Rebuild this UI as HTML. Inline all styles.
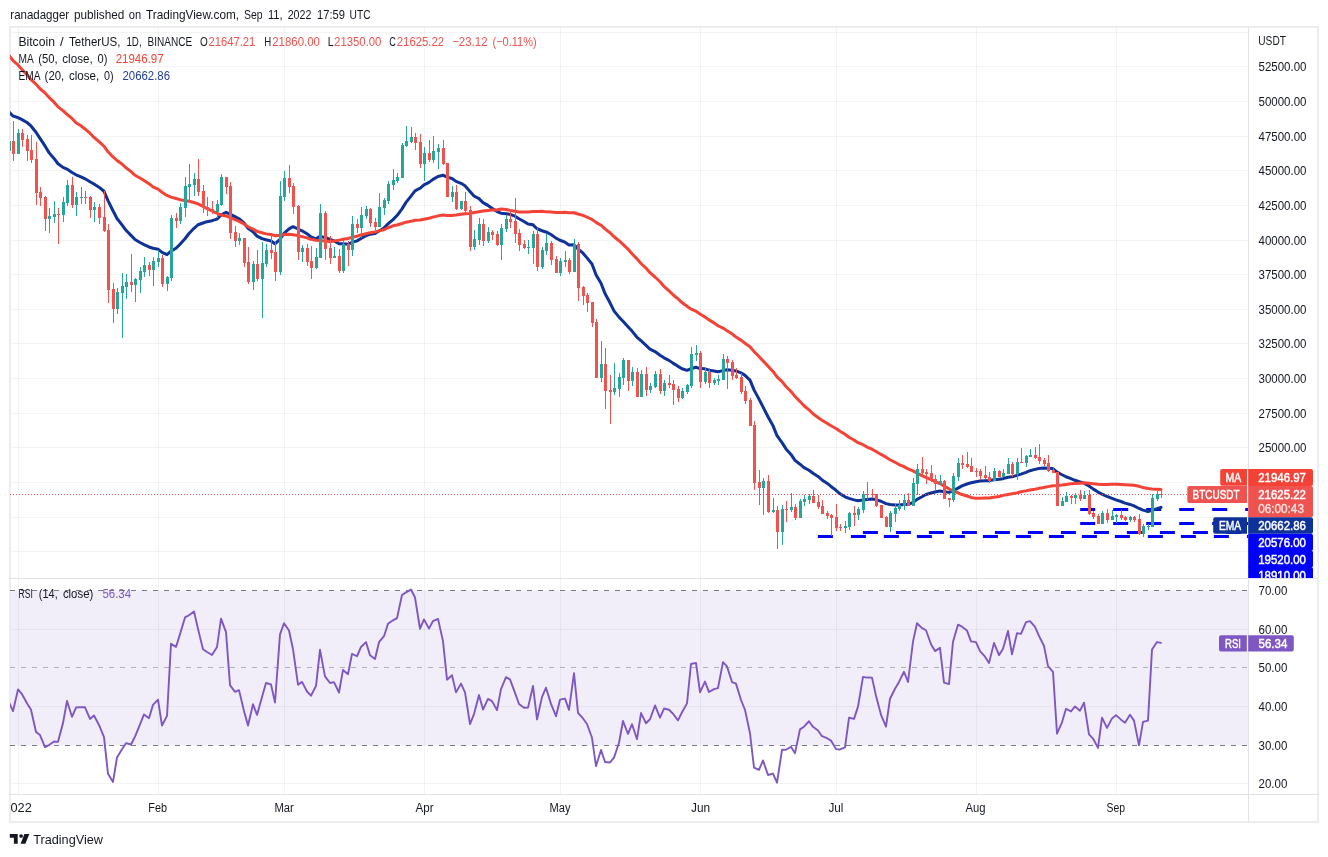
<!DOCTYPE html>
<html lang="en"><head><meta charset="utf-8"><title>BTCUSDT chart</title>
<style>html,body{margin:0;padding:0;background:#fff}svg{display:block}</style></head>
<body>
<svg width="1328" height="857" viewBox="0 0 1328 857" font-family="Liberation Sans, sans-serif" font-size="12.5">
<defs>
<clipPath id="cm"><rect x="10" y="27" width="1238" height="551"/></clipPath>
<clipPath id="cr"><rect x="10" y="579" width="1238" height="215"/></clipPath>
<clipPath id="ca"><rect x="1248" y="27" width="70" height="551"/></clipPath>
<clipPath id="ct"><rect x="10" y="795" width="1238" height="26"/></clipPath>
</defs>
<rect width="1328" height="857" fill="#fff"/>
<text y="18.7" fill="#131722" font-size="13" ><tspan x="10.30" textLength="58.81" lengthAdjust="spacingAndGlyphs">ranadagger</tspan> <tspan x="74.00" textLength="50.32" lengthAdjust="spacingAndGlyphs">published</tspan> <tspan x="128.80" textLength="12.33" lengthAdjust="spacingAndGlyphs">on</tspan> <tspan x="146.00" textLength="93.08" lengthAdjust="spacingAndGlyphs">TradingView.com,</tspan> <tspan x="244.10" textLength="18.59" lengthAdjust="spacingAndGlyphs">Sep</tspan> <tspan x="267.90" textLength="14.71" lengthAdjust="spacingAndGlyphs">11,</tspan> <tspan x="287.70" textLength="23.70" lengthAdjust="spacingAndGlyphs">2022</tspan> <tspan x="317.00" textLength="27.87" lengthAdjust="spacingAndGlyphs">17:59</tspan> <tspan x="349.60" textLength="21.00" lengthAdjust="spacingAndGlyphs">UTC</tspan></text>
<rect x="10" y="590.5" width="1238.5" height="155" fill="#7e57c2" fill-opacity="0.1"/>
<path d="M10 32.5H1248 M10 66.5H1248 M10 101.5H1248 M10 136.5H1248 M10 170.5H1248 M10 205.5H1248 M10 240.5H1248 M10 274.5H1248 M10 309.5H1248 M10 343.5H1248 M10 378.5H1248 M10 413.5H1248 M10 447.5H1248 M10 482.5H1248 M10 517.5H1248 M10 551.5H1248 M10 629.5H1248 M10 706.5H1248 M10 783.5H1248" stroke="#2a2e39" stroke-opacity="0.06" stroke-width="1" fill="none"/>
<path d="M18.5 27V794 M158.5 27V794 M284.5 27V794 M424.5 27V794 M560.5 27V794 M700.5 27V794 M836.5 27V794 M976.5 27V794 M1116.5 27V794" stroke="#2a2e39" stroke-opacity="0.06" stroke-width="1" fill="none"/>
<rect x="10" y="27" width="1308" height="795" fill="none" stroke="#ebedf3" stroke-width="2"/>
<path d="M1248.5 27V821 M10 794.5H1318 M10 578.5H1318" stroke="#e1e3e8" stroke-width="1" fill="none"/>
<g clip-path="url(#cm)">
<path d="M1080.2 509.5H1248" stroke="#0000ff" stroke-width="3" stroke-dasharray="15 18" fill="none"/>
<path d="M1080.2 523.5H1248" stroke="#0000ff" stroke-width="3" stroke-dasharray="15 18" fill="none"/>
<path d="M862.9 532.5H1248" stroke="#0000ff" stroke-width="3" stroke-dasharray="15 18" fill="none"/>
<path d="M817.9 536.5H1248" stroke="#0000ff" stroke-width="3" stroke-dasharray="15 18" fill="none"/>
<polyline points="9.00,112.05 13.00,115.99 18.00,117.57 22.00,119.58 27.00,122.50 31.00,125.95 36.00,132.21 40.00,138.37 45.00,145.94 49.00,152.64 54.00,158.45 58.00,163.77 63.00,167.38 67.00,169.11 72.00,172.44 76.00,174.79 81.00,176.89 85.00,178.80 90.00,181.68 94.00,184.09 99.00,187.18 104.00,191.27 108.00,200.55 113.00,210.77 117.00,218.46 122.00,224.87 126.00,230.28 131.00,235.37 135.00,239.51 140.00,242.53 144.00,244.66 149.00,246.96 153.00,248.28 158.00,249.17 162.00,252.34 167.00,254.67 171.00,251.15 176.00,248.22 180.00,244.25 185.00,238.74 189.00,233.48 194.00,228.29 198.00,224.75 203.00,223.03 207.00,221.68 212.00,220.67 217.00,219.12 221.00,215.07 226.00,212.29 230.00,214.20 235.00,216.65 239.00,218.72 244.00,222.83 248.00,228.37 253.00,231.77 257.00,236.13 262.00,238.66 266.00,239.78 271.00,240.92 275.00,243.82 280.00,239.24 284.00,233.44 289.00,228.88 293.00,226.66 298.00,229.01 302.00,230.81 307.00,233.72 311.00,236.93 316.00,238.85 320.00,236.35 325.00,237.42 330.00,239.30 334.00,240.89 339.00,243.69 343.00,243.73 348.00,244.28 352.00,242.36 357.00,240.88 361.00,238.43 366.00,235.63 370.00,234.34 375.00,233.51 379.00,230.97 384.00,227.98 388.00,223.81 393.00,219.62 397.00,215.57 402.00,208.84 406.00,202.37 411.00,196.10 415.00,190.92 420.00,188.28 424.00,184.87 429.00,182.41 433.00,179.40 438.00,176.45 443.00,175.20 447.00,177.15 452.00,178.55 456.00,181.38 461.00,183.29 465.00,185.80 470.00,191.54 474.00,196.01 479.00,198.64 483.00,202.61 488.00,205.40 492.00,208.15 497.00,211.56 501.00,213.17 506.00,213.71 510.00,214.38 515.00,216.14 519.00,218.75 524.00,221.47 528.00,223.91 533.00,224.84 537.00,228.73 542.00,230.76 546.00,231.94 551.00,234.51 556.00,238.12 560.00,240.27 565.00,242.15 569.00,244.89 574.00,244.79 578.00,248.84 583.00,253.21 587.00,257.88 592.00,263.99 596.00,274.75 601.00,283.25 605.00,293.46 610.00,302.79 614.00,310.90 619.00,317.18 623.00,321.22 628.00,326.80 632.00,331.09 637.00,337.26 641.00,340.72 646.00,345.32 650.00,349.17 655.00,351.53 660.00,355.23 664.00,357.86 669.00,360.38 673.00,363.12 678.00,366.35 682.00,368.74 687.00,370.32 691.00,368.77 696.00,367.27 700.00,368.56 705.00,368.86 709.00,370.13 714.00,371.06 718.00,371.83 723.00,370.61 727.00,369.83 732.00,370.34 736.00,370.93 741.00,372.81 745.00,375.38 750.00,380.15 754.00,389.86 759.00,399.11 763.00,406.88 768.00,416.79 773.00,425.68 777.00,435.69 782.00,442.63 786.00,448.91 791.00,454.40 795.00,460.33 800.00,464.22 804.00,467.57 809.00,470.26 813.00,473.30 818.00,476.44 822.00,479.89 827.00,483.21 831.00,486.46 836.00,490.28 840.00,493.76 845.00,496.83 849.00,498.40 854.00,499.89 858.00,500.73 863.00,500.10 867.00,499.56 872.00,499.07 876.00,499.60 881.00,501.26 886.00,503.60 890.00,504.52 895.00,504.89 899.00,504.90 904.00,504.43 908.00,504.53 913.00,502.47 917.00,499.33 922.00,496.71 926.00,494.44 931.00,493.01 935.00,492.01 940.00,490.94 944.00,491.65 949.00,492.37 953.00,490.77 958.00,488.16 962.00,485.88 967.00,484.00 971.00,482.75 976.00,481.66 980.00,481.04 985.00,480.70 989.00,480.65 994.00,479.70 999.00,479.31 1003.00,478.67 1008.00,477.25 1012.00,476.84 1017.00,475.40 1021.00,474.13 1026.00,472.36 1030.00,470.71 1035.00,469.39 1039.00,468.48 1044.00,467.97 1048.00,468.19 1053.00,468.58 1057.00,472.05 1062.00,474.78 1066.00,476.76 1071.00,478.70 1075.00,480.29 1080.00,481.93 1084.00,483.17 1089.00,486.03 1093.00,488.88 1098.00,492.10 1102.00,494.05 1107.00,496.44 1112.00,498.29 1116.00,499.85 1121.00,501.51 1125.00,503.16 1130.00,504.43 1134.00,505.85 1139.00,508.47 1143.00,510.17 1148.00,511.67 1152.00,510.34 1157.00,508.75 1161.00,507.35" fill="none" stroke="#0e3297" stroke-width="3.0" stroke-linejoin="round" stroke-linecap="round"/>
<polyline points="9.00,55.50 13.00,60.54 18.00,64.98 22.00,69.61 27.00,74.79 31.00,79.61 36.00,84.11 40.00,88.78 45.00,92.92 49.00,97.36 54.00,102.19 58.00,106.85 63.00,110.59 67.00,114.37 72.00,118.41 76.00,122.81 81.00,125.76 85.00,128.99 90.00,133.16 94.00,137.44 99.00,141.67 104.00,146.24 108.00,151.79 113.00,156.93 117.00,160.50 122.00,164.03 126.00,167.76 131.00,171.58 135.00,175.27 140.00,177.99 144.00,180.48 149.00,183.66 153.00,186.87 158.00,189.09 162.00,192.26 167.00,195.46 171.00,197.14 176.00,198.46 180.00,199.69 185.00,200.48 189.00,201.27 194.00,202.52 198.00,203.93 203.00,206.28 207.00,208.66 212.00,210.97 217.00,213.26 221.00,214.96 226.00,215.98 230.00,217.63 235.00,219.61 239.00,221.31 244.00,223.89 248.00,226.74 253.00,229.02 257.00,231.39 262.00,232.81 266.00,233.88 271.00,234.56 275.00,235.66 280.00,235.30 284.00,234.58 289.00,234.26 293.00,234.66 298.00,235.61 302.00,236.62 307.00,237.91 311.00,239.32 316.00,240.28 320.00,240.40 325.00,241.02 330.00,241.56 334.00,240.90 339.00,240.15 343.00,239.20 348.00,238.48 352.00,237.33 357.00,236.19 361.00,234.92 366.00,233.67 370.00,232.82 375.00,231.95 379.00,230.87 384.00,229.71 388.00,227.75 393.00,225.81 397.00,224.99 402.00,223.49 406.00,222.17 411.00,221.18 415.00,220.34 420.00,220.02 424.00,219.25 429.00,218.30 433.00,217.14 438.00,215.88 443.00,215.06 447.00,215.44 452.00,215.56 456.00,215.08 461.00,214.31 465.00,213.74 470.00,213.42 474.00,212.57 479.00,211.76 483.00,211.02 488.00,210.40 492.00,210.08 497.00,209.92 501.00,209.06 506.00,209.53 510.00,210.37 515.00,211.32 519.00,212.08 524.00,212.00 528.00,211.98 533.00,211.43 537.00,211.39 542.00,211.25 546.00,211.86 551.00,212.09 556.00,212.40 560.00,212.49 565.00,212.28 569.00,212.82 574.00,212.71 578.00,213.97 583.00,215.33 587.00,217.07 592.00,219.33 596.00,222.43 601.00,225.20 605.00,228.87 610.00,232.71 614.00,236.78 619.00,240.72 623.00,244.37 628.00,249.07 632.00,253.69 637.00,258.87 641.00,263.51 646.00,268.03 650.00,272.69 655.00,276.99 660.00,281.78 664.00,286.47 669.00,290.89 673.00,294.76 678.00,298.87 682.00,302.53 687.00,306.21 691.00,309.10 696.00,311.24 700.00,314.08 705.00,317.04 709.00,319.88 714.00,322.84 718.00,325.74 723.00,328.04 727.00,330.72 732.00,333.85 736.00,336.96 741.00,340.12 745.00,343.24 750.00,346.81 754.00,351.51 759.00,356.57 763.00,360.87 768.00,366.09 773.00,371.43 777.00,376.87 782.00,381.59 786.00,386.55 791.00,391.48 795.00,396.39 800.00,401.54 804.00,405.78 809.00,409.80 813.00,413.80 818.00,417.48 822.00,420.20 827.00,423.22 831.00,425.75 836.00,428.45 840.00,431.23 845.00,434.22 849.00,437.29 854.00,439.98 858.00,442.71 863.00,444.68 867.00,447.09 872.00,449.20 876.00,451.58 881.00,454.44 886.00,457.15 890.00,459.76 895.00,462.24 899.00,464.56 904.00,466.62 908.00,468.90 913.00,470.85 917.00,473.16 922.00,475.53 926.00,477.38 931.00,479.53 935.00,481.54 940.00,483.55 944.00,485.94 949.00,488.74 953.00,491.01 958.00,492.77 962.00,494.52 967.00,496.03 971.00,497.45 976.00,498.37 980.00,498.23 985.00,498.04 989.00,498.03 994.00,497.22 999.00,496.54 1003.00,495.37 1008.00,494.47 1012.00,493.76 1017.00,492.87 1021.00,491.77 1026.00,490.86 1030.00,489.97 1035.00,489.19 1039.00,488.35 1044.00,487.49 1048.00,486.64 1053.00,485.79 1057.00,485.54 1062.00,485.02 1066.00,484.40 1071.00,483.82 1075.00,483.46 1080.00,483.13 1084.00,482.86 1089.00,483.24 1093.00,483.67 1098.00,484.23 1102.00,484.39 1107.00,484.44 1112.00,484.24 1116.00,484.27 1121.00,484.44 1125.00,484.72 1130.00,485.05 1134.00,485.33 1139.00,486.34 1143.00,487.47 1148.00,488.55 1152.00,489.05 1157.00,489.34 1161.00,489.57" fill="none" stroke="#f44336" stroke-width="3.0" stroke-linejoin="round" stroke-linecap="round"/>
<path d="M10 494.5H1248" stroke="#ef5350" stroke-width="1" stroke-dasharray="1 2" fill="none"/>
<path d="M9 130h1V141h1V151h-1V158h-1V151h-1V141h1Z M18 129h1V133h1V154h-1V154h-1V154h-1V133h1Z M49 208h1V216h1V219h-1V233h-1V219h-1V216h1Z M54 201h1V214h1V217h-1V223h-1V217h-1V214h1Z M63 197h1V202h1V215h-1V222h-1V215h-1V202h1Z M67 180h1V185h1V203h-1V206h-1V203h-1V185h1Z M76 192h1V197h1V205h-1V216h-1V205h-1V197h1Z M81 187h1V197h1V198h-1V204h-1V198h-1V197h1Z M94 202h1V207h1V210h-1V222h-1V210h-1V207h1Z M117 288h1V292h1V309h-1V314h-1V309h-1V292h1Z M122 273h1V286h1V293h-1V338h-1V293h-1V286h1Z M126 274h1V282h1V287h-1V299h-1V287h-1V282h1Z M135 278h1V279h1V285h-1V302h-1V285h-1V279h1Z M140 267h1V271h1V280h-1V293h-1V280h-1V271h1Z M144 257h1V265h1V272h-1V277h-1V272h-1V265h1Z M153 257h1V261h1V270h-1V286h-1V270h-1V261h1Z M158 250h1V258h1V262h-1V267h-1V262h-1V258h1Z M167 276h1V277h1V284h-1V291h-1V284h-1V277h1Z M171 215h1V218h1V278h-1V281h-1V278h-1V218h1Z M180 203h1V207h1V221h-1V224h-1V221h-1V207h1Z M185 177h1V186h1V208h-1V217h-1V208h-1V186h1Z M189 164h1V184h1V187h-1V203h-1V187h-1V184h1Z M194 173h1V179h1V185h-1V196h-1V185h-1V179h1Z M217 200h1V204h1V212h-1V218h-1V212h-1V204h1Z M221 174h1V177h1V205h-1V206h-1V205h-1V177h1Z M239 233h1V238h1V241h-1V245h-1V241h-1V238h1Z M253 261h1V264h1V282h-1V290h-1V282h-1V264h1Z M262 242h1V263h1V279h-1V318h-1V279h-1V263h1Z M266 244h1V250h1V264h-1V267h-1V264h-1V250h1Z M280 181h1V196h1V272h-1V275h-1V272h-1V196h1Z M284 171h1V178h1V197h-1V201h-1V197h-1V178h1Z M302 245h1V248h1V252h-1V262h-1V252h-1V248h1Z M316 248h1V257h1V268h-1V269h-1V268h-1V257h1Z M320 204h1V213h1V258h-1V258h-1V258h-1V213h1Z M334 247h1V256h1V258h-1V258h-1V258h-1V256h1Z M343 240h1V244h1V271h-1V273h-1V271h-1V244h1Z M352 216h1V224h1V250h-1V256h-1V250h-1V224h1Z M361 207h1V215h1V228h-1V238h-1V228h-1V215h1Z M366 206h1V209h1V216h-1V219h-1V216h-1V209h1Z M379 193h1V207h1V227h-1V227h-1V227h-1V207h1Z M384 198h1V200h1V208h-1V215h-1V208h-1V200h1Z M388 181h1V184h1V201h-1V204h-1V201h-1V184h1Z M393 169h1V180h1V185h-1V190h-1V185h-1V180h1Z M397 173h1V177h1V181h-1V183h-1V181h-1V177h1Z M402 143h1V145h1V178h-1V178h-1V178h-1V145h1Z M406 126h1V141h1V146h-1V147h-1V146h-1V141h1Z M411 127h1V137h1V142h-1V143h-1V142h-1V137h1Z M424 147h1V153h1V164h-1V181h-1V164h-1V153h1Z M433 136h1V151h1V160h-1V163h-1V160h-1V151h1Z M438 144h1V148h1V152h-1V169h-1V152h-1V148h1Z M452 186h1V192h1V197h-1V202h-1V197h-1V192h1Z M461 201h1V201h1V209h-1V210h-1V209h-1V201h1Z M474 230h1V239h1V247h-1V250h-1V247h-1V239h1Z M479 218h1V224h1V240h-1V245h-1V240h-1V224h1Z M488 227h1V232h1V241h-1V243h-1V241h-1V232h1Z M501 224h1V228h1V245h-1V260h-1V245h-1V228h1Z M506 215h1V219h1V229h-1V232h-1V229h-1V219h1Z M528 240h1V247h1V248h-1V254h-1V248h-1V247h1Z M533 231h1V234h1V248h-1V264h-1V248h-1V234h1Z M542 247h1V250h1V267h-1V269h-1V267h-1V250h1Z M546 234h1V243h1V251h-1V255h-1V251h-1V243h1Z M560 258h1V261h1V273h-1V276h-1V273h-1V261h1Z M565 251h1V260h1V262h-1V267h-1V262h-1V260h1Z M574 239h1V244h1V272h-1V272h-1V272h-1V244h1Z M601 341h1V364h1V378h-1V382h-1V378h-1V364h1Z M614 363h1V388h1V392h-1V395h-1V392h-1V388h1Z M619 373h1V377h1V389h-1V397h-1V389h-1V377h1Z M623 358h1V360h1V378h-1V385h-1V378h-1V360h1Z M632 367h1V372h1V381h-1V386h-1V381h-1V372h1Z M641 370h1V374h1V397h-1V397h-1V397h-1V374h1Z M650 383h1V386h1V390h-1V393h-1V390h-1V386h1Z M655 371h1V374h1V387h-1V388h-1V387h-1V374h1Z M664 380h1V383h1V391h-1V396h-1V391h-1V383h1Z M682 388h1V391h1V398h-1V399h-1V398h-1V391h1Z M687 384h1V385h1V392h-1V394h-1V392h-1V385h1Z M691 347h1V354h1V386h-1V388h-1V386h-1V354h1Z M696 345h1V353h1V355h-1V361h-1V355h-1V353h1Z M705 368h1V372h1V382h-1V384h-1V382h-1V372h1Z M714 378h1V380h1V383h-1V385h-1V383h-1V380h1Z M718 375h1V379h1V381h-1V385h-1V381h-1V379h1Z M723 354h1V359h1V380h-1V380h-1V380h-1V359h1Z M763 478h1V481h1V488h-1V515h-1V488h-1V481h1Z M773 498h1V510h1V512h-1V513h-1V512h-1V510h1Z M782 505h1V509h1V532h-1V545h-1V532h-1V509h1Z M791 493h1V507h1V510h-1V512h-1V510h-1V507h1Z M800 499h1V501h1V518h-1V518h-1V518h-1V501h1Z M804 495h1V499h1V502h-1V506h-1V502h-1V499h1Z M809 494h1V496h1V500h-1V504h-1V500h-1V496h1Z M845 521h1V526h1V528h-1V533h-1V528h-1V526h1Z M849 512h1V513h1V527h-1V530h-1V527h-1V513h1Z M858 507h1V509h1V515h-1V520h-1V515h-1V509h1Z M863 491h1V494h1V510h-1V513h-1V510h-1V494h1Z M890 511h1V513h1V527h-1V532h-1V527h-1V513h1Z M895 504h1V508h1V514h-1V522h-1V514h-1V508h1Z M899 500h1V505h1V509h-1V511h-1V509h-1V505h1Z M904 495h1V500h1V506h-1V510h-1V506h-1V500h1Z M913 478h1V483h1V506h-1V506h-1V506h-1V483h1Z M917 464h1V469h1V484h-1V495h-1V484h-1V469h1Z M940 475h1V481h1V484h-1V485h-1V484h-1V481h1Z M953 473h1V476h1V500h-1V502h-1V500h-1V476h1Z M958 458h1V463h1V477h-1V481h-1V477h-1V463h1Z M994 468h1V471h1V481h-1V481h-1V481h-1V471h1Z M1003 469h1V473h1V477h-1V477h-1V477h-1V473h1Z M1008 458h1V464h1V474h-1V474h-1V474h-1V464h1Z M1017 458h1V462h1V474h-1V480h-1V474h-1V462h1Z M1026 455h1V456h1V463h-1V467h-1V463h-1V456h1Z M1030 449h1V455h1V457h-1V457h-1V457h-1V455h1Z M1062 497h1V501h1V506h-1V506h-1V506h-1V501h1Z M1066 492h1V496h1V502h-1V502h-1V502h-1V496h1Z M1075 493h1V495h1V498h-1V504h-1V498h-1V495h1Z M1084 491h1V495h1V499h-1V499h-1V499h-1V495h1Z M1102 511h1V513h1V524h-1V524h-1V524h-1V513h1Z M1112 510h1V516h1V520h-1V520h-1V520h-1V516h1Z M1116 514h1V515h1V517h-1V523h-1V517h-1V515h1Z M1130 516h1V517h1V520h-1V522h-1V520h-1V517h1Z M1143 524h1V526h1V534h-1V537h-1V534h-1V526h1Z M1148 524h1V526h1V527h-1V530h-1V527h-1V526h1Z M1152 494h1V498h1V527h-1V527h-1V527h-1V498h1Z M1157 491h1V494h1V499h-1V501h-1V499h-1V494h1Z" fill="#26a69a"/>
<path d="M13 121h1V141h1V154h-1V161h-1V154h-1V141h1Z M22 129h1V133h1V140h-1V147h-1V140h-1V133h1Z M27 135h1V139h1V151h-1V161h-1V151h-1V139h1Z M31 135h1V150h1V160h-1V163h-1V160h-1V150h1Z M36 142h1V159h1V193h-1V205h-1V193h-1V159h1Z M40 187h1V192h1V198h-1V206h-1V198h-1V192h1Z M45 196h1V197h1V219h-1V231h-1V219h-1V197h1Z M58 208h1V214h1V215h-1V244h-1V215h-1V214h1Z M72 177h1V185h1V205h-1V208h-1V205h-1V185h1Z M85 191h1V197h1V198h-1V204h-1V198h-1V197h1Z M90 196h1V197h1V210h-1V218h-1V210h-1V197h1Z M99 204h1V207h1V218h-1V224h-1V218h-1V207h1Z M104 191h1V217h1V231h-1V232h-1V231h-1V217h1Z M108 224h1V230h1V290h-1V303h-1V290h-1V230h1Z M113 283h1V289h1V309h-1V323h-1V309h-1V289h1Z M131 254h1V282h1V285h-1V292h-1V285h-1V282h1Z M149 262h1V265h1V270h-1V276h-1V270h-1V265h1Z M162 255h1V258h1V284h-1V287h-1V284h-1V258h1Z M176 213h1V218h1V221h-1V228h-1V221h-1V218h1Z M198 159h1V179h1V192h-1V196h-1V192h-1V179h1Z M203 185h1V191h1V208h-1V213h-1V208h-1V191h1Z M207 197h1V207h1V210h-1V216h-1V210h-1V207h1Z M212 201h1V209h1V212h-1V214h-1V212h-1V209h1Z M226 177h1V177h1V187h-1V194h-1V187h-1V177h1Z M230 182h1V186h1V233h-1V239h-1V233h-1V186h1Z M235 226h1V232h1V241h-1V247h-1V241h-1V232h1Z M244 238h1V238h1V263h-1V267h-1V263h-1V238h1Z M248 247h1V262h1V282h-1V284h-1V282h-1V262h1Z M257 250h1V264h1V279h-1V281h-1V279h-1V264h1Z M271 235h1V250h1V253h-1V259h-1V253h-1V250h1Z M275 242h1V252h1V272h-1V281h-1V272h-1V252h1Z M289 165h1V178h1V187h-1V193h-1V187h-1V178h1Z M293 183h1V186h1V207h-1V214h-1V207h-1V186h1Z M298 205h1V206h1V252h-1V260h-1V252h-1V206h1Z M307 244h1V248h1V262h-1V266h-1V262h-1V248h1Z M311 246h1V261h1V268h-1V279h-1V268h-1V261h1Z M325 211h1V213h1V249h-1V260h-1V249h-1V213h1Z M330 236h1V248h1V258h-1V264h-1V258h-1V248h1Z M339 249h1V256h1V271h-1V273h-1V271h-1V256h1Z M348 241h1V244h1V250h-1V266h-1V250h-1V244h1Z M357 219h1V224h1V228h-1V233h-1V228h-1V224h1Z M370 208h1V209h1V223h-1V227h-1V223h-1V209h1Z M375 218h1V222h1V227h-1V233h-1V227h-1V222h1Z M415 133h1V137h1V143h-1V150h-1V143h-1V137h1Z M420 134h1V142h1V164h-1V168h-1V164h-1V142h1Z M429 140h1V153h1V160h-1V162h-1V160h-1V153h1Z M443 140h1V148h1V164h-1V165h-1V164h-1V148h1Z M447 163h1V163h1V197h-1V197h-1V197h-1V163h1Z M456 185h1V192h1V209h-1V210h-1V209h-1V192h1Z M465 192h1V201h1V211h-1V214h-1V211h-1V201h1Z M470 206h1V210h1V247h-1V251h-1V247h-1V210h1Z M483 219h1V224h1V241h-1V246h-1V241h-1V224h1Z M492 230h1V232h1V235h-1V240h-1V235h-1V232h1Z M497 231h1V234h1V245h-1V246h-1V245h-1V234h1Z M510 209h1V219h1V222h-1V228h-1V222h-1V219h1Z M515 198h1V221h1V234h-1V243h-1V234h-1V221h1Z M519 229h1V233h1V245h-1V251h-1V245h-1V233h1Z M524 240h1V244h1V248h-1V249h-1V248h-1V244h1Z M537 228h1V234h1V267h-1V271h-1V267h-1V234h1Z M551 241h1V243h1V260h-1V265h-1V260h-1V243h1Z M556 256h1V259h1V273h-1V273h-1V273h-1V259h1Z M569 258h1V260h1V272h-1V274h-1V272h-1V260h1Z M578 242h1V244h1V288h-1V301h-1V288h-1V244h1Z M583 286h1V287h1V296h-1V305h-1V296h-1V287h1Z M587 293h1V295h1V303h-1V312h-1V303h-1V295h1Z M592 302h1V302h1V323h-1V327h-1V323h-1V302h1Z M596 319h1V322h1V378h-1V378h-1V378h-1V322h1Z M605 348h1V364h1V391h-1V409h-1V391h-1V364h1Z M610 375h1V390h1V392h-1V424h-1V392h-1V390h1Z M628 360h1V360h1V381h-1V391h-1V381h-1V360h1Z M637 368h1V372h1V397h-1V397h-1V397h-1V372h1Z M646 367h1V374h1V390h-1V396h-1V390h-1V374h1Z M660 369h1V374h1V391h-1V394h-1V391h-1V374h1Z M669 375h1V383h1V385h-1V388h-1V385h-1V383h1Z M673 380h1V384h1V390h-1V405h-1V390h-1V384h1Z M678 386h1V389h1V398h-1V402h-1V398h-1V389h1Z M700 351h1V353h1V382h-1V388h-1V382h-1V353h1Z M709 368h1V372h1V383h-1V388h-1V383h-1V372h1Z M727 356h1V359h1V363h-1V389h-1V363h-1V359h1Z M732 360h1V362h1V376h-1V380h-1V376h-1V362h1Z M736 368h1V375h1V378h-1V379h-1V378h-1V375h1Z M741 373h1V377h1V392h-1V394h-1V392h-1V377h1Z M745 386h1V391h1V401h-1V404h-1V401h-1V391h1Z M750 398h1V400h1V426h-1V426h-1V426h-1V400h1Z M754 421h1V425h1V483h-1V490h-1V483h-1V425h1Z M759 470h1V482h1V488h-1V505h-1V488h-1V482h1Z M768 475h1V481h1V512h-1V513h-1V512h-1V481h1Z M777 506h1V510h1V532h-1V549h-1V532h-1V510h1Z M786 501h1V509h1V510h-1V522h-1V510h-1V509h1Z M795 504h1V507h1V518h-1V520h-1V518h-1V507h1Z M813 490h1V496h1V503h-1V503h-1V503h-1V496h1Z M818 495h1V502h1V507h-1V509h-1V507h-1V502h1Z M822 500h1V506h1V514h-1V514h-1V514h-1V506h1Z M827 511h1V513h1V516h-1V519h-1V516h-1V513h1Z M831 514h1V515h1V518h-1V536h-1V518h-1V515h1Z M836 504h1V517h1V528h-1V531h-1V528h-1V517h1Z M840 524h1V527h1V528h-1V531h-1V528h-1V527h1Z M854 506h1V513h1V515h-1V526h-1V515h-1V513h1Z M867 482h1V494h1V495h-1V500h-1V495h-1V494h1Z M872 489h1V494h1V495h-1V498h-1V495h-1V494h1Z M876 494h1V494h1V506h-1V507h-1V506h-1V494h1Z M881 505h1V505h1V518h-1V518h-1V518h-1V505h1Z M886 516h1V517h1V527h-1V527h-1V527h-1V517h1Z M908 493h1V500h1V506h-1V506h-1V506h-1V500h1Z M922 457h1V469h1V473h-1V476h-1V473h-1V469h1Z M926 469h1V472h1V474h-1V484h-1V474h-1V472h1Z M931 465h1V473h1V480h-1V482h-1V480h-1V473h1Z M935 475h1V479h1V484h-1V490h-1V484h-1V479h1Z M944 480h1V481h1V499h-1V499h-1V499h-1V481h1Z M949 498h1V498h1V500h-1V507h-1V500h-1V498h1Z M962 455h1V463h1V465h-1V469h-1V465h-1V463h1Z M967 452h1V464h1V467h-1V468h-1V467h-1V464h1Z M971 458h1V466h1V472h-1V472h-1V472h-1V466h1Z M976 468h1V471h1V472h-1V477h-1V472h-1V471h1Z M980 469h1V471h1V476h-1V480h-1V476h-1V471h1Z M985 466h1V475h1V478h-1V479h-1V478h-1V475h1Z M989 472h1V477h1V481h-1V483h-1V481h-1V477h1Z M999 470h1V471h1V477h-1V477h-1V477h-1V471h1Z M1012 462h1V464h1V474h-1V477h-1V474h-1V464h1Z M1021 448h1V462h1V463h-1V463h-1V463h-1V462h1Z M1035 447h1V455h1V458h-1V459h-1V458h-1V455h1Z M1039 444h1V457h1V461h-1V464h-1V461h-1V457h1Z M1044 458h1V460h1V464h-1V466h-1V464h-1V460h1Z M1048 455h1V463h1V471h-1V472h-1V471h-1V463h1Z M1053 467h1V470h1V473h-1V473h-1V473h-1V470h1Z M1057 472h1V472h1V506h-1V506h-1V506h-1V472h1Z M1071 495h1V496h1V498h-1V504h-1V498h-1V496h1Z M1080 490h1V495h1V499h-1V501h-1V499h-1V495h1Z M1089 490h1V495h1V514h-1V515h-1V514h-1V495h1Z M1093 511h1V513h1V517h-1V519h-1V517h-1V513h1Z M1098 514h1V516h1V524h-1V524h-1V524h-1V516h1Z M1107 509h1V513h1V520h-1V523h-1V520h-1V513h1Z M1121 510h1V515h1V518h-1V520h-1V518h-1V515h1Z M1125 516h1V517h1V520h-1V521h-1V520h-1V517h1Z M1134 516h1V517h1V520h-1V522h-1V520h-1V517h1Z M1139 514h1V519h1V534h-1V535h-1V534h-1V519h1Z M1161 491h1V494h1V495h-1V498h-1V495h-1V494h1Z" fill="#ef5350"/>
</g>
<text y="45.8" fill="#131722" font-size="12.5" ><tspan x="18.40" textLength="36.52" lengthAdjust="spacingAndGlyphs">Bitcoin</tspan> <tspan x="60.00" textLength="3.67" lengthAdjust="spacingAndGlyphs">/</tspan> <tspan x="69.10" textLength="51.32" lengthAdjust="spacingAndGlyphs">TetherUS,</tspan> <tspan x="126.40" textLength="15.21" lengthAdjust="spacingAndGlyphs">1D,</tspan> <tspan x="147.50" textLength="44.60" lengthAdjust="spacingAndGlyphs">BINANCE</tspan> <tspan x="199.90" textLength="7.78" lengthAdjust="spacingAndGlyphs">O</tspan> <tspan x="208.50" fill="#ef5350" textLength="46.71" lengthAdjust="spacingAndGlyphs">21647.21</tspan> <tspan x="264.30" textLength="6.92" lengthAdjust="spacingAndGlyphs">H</tspan> <tspan x="272.20" fill="#ef5350" textLength="47.71" lengthAdjust="spacingAndGlyphs">21860.00</tspan> <tspan x="327.70" textLength="5.41" lengthAdjust="spacingAndGlyphs">L</tspan> <tspan x="334.10" fill="#ef5350" textLength="47.31" lengthAdjust="spacingAndGlyphs">21350.00</tspan> <tspan x="389.20" textLength="6.62" lengthAdjust="spacingAndGlyphs">C</tspan> <tspan x="396.80" fill="#ef5350" textLength="47.31" lengthAdjust="spacingAndGlyphs">21625.22</tspan> <tspan x="452.20" fill="#ef5350" textLength="35.32" lengthAdjust="spacingAndGlyphs">−23.12</tspan> <tspan x="492.50" fill="#ef5350" textLength="44.21" lengthAdjust="spacingAndGlyphs">(−0.11%)</tspan></text>
<text y="62.8" fill="#131722" font-size="12.5" ><tspan x="18.60" textLength="14.65" lengthAdjust="spacingAndGlyphs">MA</tspan> <tspan x="38.20" textLength="19.38" lengthAdjust="spacingAndGlyphs">(50,</tspan> <tspan x="62.30" textLength="30.33" lengthAdjust="spacingAndGlyphs">close,</tspan> <tspan x="97.50" textLength="9.89" lengthAdjust="spacingAndGlyphs">0)</tspan> <tspan x="115.70" fill="#f44336" textLength="47.91" lengthAdjust="spacingAndGlyphs">21946.97</tspan></text>
<text y="79.8" fill="#131722" font-size="12.5" ><tspan x="18.60" textLength="21.37" lengthAdjust="spacingAndGlyphs">EMA</tspan> <tspan x="44.60" textLength="19.58" lengthAdjust="spacingAndGlyphs">(20,</tspan> <tspan x="68.90" textLength="30.33" lengthAdjust="spacingAndGlyphs">close,</tspan> <tspan x="104.10" textLength="9.59" lengthAdjust="spacingAndGlyphs">0)</tspan> <tspan x="122.50" fill="#1e3f9e" textLength="47.51" lengthAdjust="spacingAndGlyphs">20662.86</tspan></text>
<text x="1258.30" y="44.8" fill="#131722" font-size="12.5" textLength="27.62" lengthAdjust="spacingAndGlyphs" >USDT</text>
<text x="1258.50" y="70.9" fill="#131722" font-size="12.5" textLength="48.01" lengthAdjust="spacingAndGlyphs" >52500.00</text>
<text x="1258.50" y="105.9" fill="#131722" font-size="12.5" textLength="48.01" lengthAdjust="spacingAndGlyphs" >50000.00</text>
<text x="1258.50" y="140.9" fill="#131722" font-size="12.5" textLength="48.01" lengthAdjust="spacingAndGlyphs" >47500.00</text>
<text x="1258.50" y="174.9" fill="#131722" font-size="12.5" textLength="48.01" lengthAdjust="spacingAndGlyphs" >45000.00</text>
<text x="1258.50" y="209.9" fill="#131722" font-size="12.5" textLength="48.01" lengthAdjust="spacingAndGlyphs" >42500.00</text>
<text x="1258.50" y="244.9" fill="#131722" font-size="12.5" textLength="48.01" lengthAdjust="spacingAndGlyphs" >40000.00</text>
<text x="1258.50" y="278.9" fill="#131722" font-size="12.5" textLength="48.01" lengthAdjust="spacingAndGlyphs" >37500.00</text>
<text x="1258.50" y="313.9" fill="#131722" font-size="12.5" textLength="48.01" lengthAdjust="spacingAndGlyphs" >35000.00</text>
<text x="1258.50" y="347.9" fill="#131722" font-size="12.5" textLength="48.01" lengthAdjust="spacingAndGlyphs" >32500.00</text>
<text x="1258.50" y="382.9" fill="#131722" font-size="12.5" textLength="48.01" lengthAdjust="spacingAndGlyphs" >30000.00</text>
<text x="1258.50" y="417.9" fill="#131722" font-size="12.5" textLength="48.01" lengthAdjust="spacingAndGlyphs" >27500.00</text>
<text x="1258.50" y="451.9" fill="#131722" font-size="12.5" textLength="48.01" lengthAdjust="spacingAndGlyphs" >25000.00</text>
<text x="1258.50" y="594.9" fill="#131722" font-size="12.5" textLength="28.77" lengthAdjust="spacingAndGlyphs" >70.00</text>
<text x="1258.50" y="633.9" fill="#131722" font-size="12.5" textLength="28.77" lengthAdjust="spacingAndGlyphs" >60.00</text>
<text x="1258.50" y="671.9" fill="#131722" font-size="12.5" textLength="28.77" lengthAdjust="spacingAndGlyphs" >50.00</text>
<text x="1258.50" y="710.9" fill="#131722" font-size="12.5" textLength="28.77" lengthAdjust="spacingAndGlyphs" >40.00</text>
<text x="1258.50" y="749.9" fill="#131722" font-size="12.5" textLength="28.77" lengthAdjust="spacingAndGlyphs" >30.00</text>
<text x="1258.50" y="787.9" fill="#131722" font-size="12.5" textLength="28.77" lengthAdjust="spacingAndGlyphs" >20.00</text>
<path d="M1247 469V485.7H1222.2a2 2 0 0 1 -2 -2V471a2 2 0 0 1 2 -2Z" fill="#f44336"/>
<path d="M1248.2 469H1311a2 2 0 0 1 2 2V484.1a2 2 0 0 1 -2 2H1248.2Z" fill="#f44336"/>
<path d="M1247 486.1V502.9H1189.3a2 2 0 0 1 -2 -2V488.1a2 2 0 0 1 2 -2Z" fill="#ef5350"/>
<path d="M1248.2 486.1H1311a2 2 0 0 1 2 2V515.2a2 2 0 0 1 -2 2H1248.2Z" fill="#ef5350"/>
<path d="M1247 517.2V533.8H1215.2a2 2 0 0 1 -2 -2V519.2a2 2 0 0 1 2 -2Z" fill="#0e3297"/>
<path d="M1248.2 517.2H1311a2 2 0 0 1 2 2V531.8a2 2 0 0 1 -2 2H1248.2Z" fill="#0e3297"/>
<g clip-path="url(#ca)">
<path d="M1248.2 567.1H1311a2 2 0 0 1 2 2V582a2 2 0 0 1 -2 2H1248.2Z" fill="#0000ff"/>
<path d="M1248.2 550.5H1311a2 2 0 0 1 2 2V565.6a2 2 0 0 1 -2 2H1248.2Z" fill="#0000ff"/>
<path d="M1248.2 533.8H1311a2 2 0 0 1 2 2V549a2 2 0 0 1 -2 2H1248.2Z" fill="#0000ff"/>
<text x="1258.20" y="546.8" fill="#fff" font-size="12.5" textLength="47.81" lengthAdjust="spacingAndGlyphs" stroke="#fff" stroke-width="0.45">20576.00</text>
<text x="1258.20" y="563.5" fill="#fff" font-size="12.5" textLength="47.81" lengthAdjust="spacingAndGlyphs" stroke="#fff" stroke-width="0.45">19520.00</text>
<text x="1258.20" y="580.2" fill="#fff" font-size="12.5" textLength="47.81" lengthAdjust="spacingAndGlyphs" stroke="#fff" stroke-width="0.45">18910.00</text>
</g>
<text x="1225.50" y="481.7" fill="#fff" font-size="12.5" textLength="15.65" lengthAdjust="spacingAndGlyphs" stroke="#fff" stroke-width="0.45">MA</text>
<text x="1258.20" y="481.7" fill="#fff" font-size="12.5" textLength="47.81" lengthAdjust="spacingAndGlyphs" stroke="#fff" stroke-width="0.45">21946.97</text>
<text x="1192.60" y="498.7" fill="#fff" font-size="12.5" textLength="46.92" lengthAdjust="spacingAndGlyphs" stroke="#fff" stroke-width="0.45">BTCUSDT</text>
<text x="1258.20" y="498.7" fill="#fff" font-size="12.5" textLength="47.81" lengthAdjust="spacingAndGlyphs" stroke="#fff" stroke-width="0.45">21625.22</text>
<text x="1258.20" y="512.6" fill="#fff" font-size="12.5" textLength="45.77" lengthAdjust="spacingAndGlyphs" fill-opacity="0.78" stroke="#fff" stroke-width="0.4" stroke-opacity="0.7">06:00:43</text>
<text x="1218.90" y="530.1" fill="#fff" font-size="12.5" textLength="22.27" lengthAdjust="spacingAndGlyphs" stroke="#fff" stroke-width="0.45">EMA</text>
<text x="1258.20" y="530.1" fill="#fff" font-size="12.5" textLength="47.81" lengthAdjust="spacingAndGlyphs" stroke="#fff" stroke-width="0.45">20662.86</text>
<g clip-path="url(#cr)">
<path d="M10 590.5H1248 M10 745.5H1248" stroke="#787b86" stroke-width="1" stroke-dasharray="5 6" fill="none"/>
<path d="M10 667.5H1248" stroke="#787b86" stroke-opacity="0.55" stroke-width="1" stroke-dasharray="5 6" fill="none"/>
<polyline points="9.00,702.28 13.00,711.20 18.00,689.46 22.00,694.23 27.00,703.32 31.00,709.81 36.00,731.99 40.00,735.07 45.00,747.12 49.00,745.04 54.00,741.45 58.00,741.83 63.00,723.12 67.00,701.03 72.00,716.79 76.00,707.57 81.00,707.10 85.00,707.27 90.00,718.98 94.00,715.54 99.00,724.97 104.00,737.20 108.00,773.77 113.00,781.94 117.00,757.57 122.00,749.25 126.00,743.15 131.00,744.54 135.00,736.69 140.00,724.30 144.00,714.41 149.00,718.26 153.00,704.87 158.00,699.67 162.00,725.56 167.00,715.91 171.00,643.81 176.00,646.91 180.00,634.12 185.00,617.42 189.00,615.21 194.00,611.51 198.00,628.91 203.00,649.27 207.00,652.01 212.00,655.04 217.00,647.10 221.00,618.64 226.00,632.16 230.00,685.07 235.00,691.86 239.00,690.12 244.00,710.97 248.00,725.47 253.00,704.22 257.00,714.89 262.00,696.94 266.00,683.04 271.00,684.41 275.00,702.48 280.00,634.33 284.00,623.25 289.00,630.44 293.00,649.19 298.00,684.71 302.00,681.88 307.00,691.49 311.00,695.72 316.00,685.94 320.00,649.81 325.00,676.39 330.00,683.03 334.00,682.12 339.00,692.52 343.00,669.95 348.00,674.24 352.00,653.84 357.00,656.25 361.00,646.99 366.00,642.13 370.00,655.29 375.00,658.91 379.00,642.19 384.00,636.18 388.00,623.83 393.00,620.34 397.00,618.12 402.00,594.99 406.00,592.38 411.00,589.55 415.00,597.53 420.00,628.73 424.00,619.50 429.00,628.60 433.00,621.05 438.00,618.84 443.00,641.10 447.00,679.68 452.00,675.20 456.00,692.40 461.00,683.62 465.00,692.30 470.00,724.16 474.00,714.05 479.00,695.07 483.00,709.56 488.00,698.87 492.00,701.09 497.00,710.09 501.00,689.17 506.00,677.21 510.00,679.33 515.00,692.91 519.00,704.02 524.00,707.80 528.00,707.60 533.00,686.01 537.00,719.43 542.00,697.15 546.00,687.72 551.00,703.89 556.00,716.16 560.00,699.69 565.00,698.57 569.00,709.86 574.00,673.16 578.00,712.87 583.00,718.44 587.00,724.02 592.00,737.78 596.00,766.15 601.00,749.92 605.00,761.99 610.00,762.43 614.00,757.64 619.00,742.75 623.00,721.03 628.00,733.98 632.00,724.21 637.00,739.18 641.00,713.06 646.00,723.25 650.00,719.28 655.00,705.48 660.00,717.61 664.00,708.54 669.00,709.79 673.00,713.74 678.00,720.37 682.00,712.25 687.00,703.40 691.00,663.97 696.00,662.93 700.00,692.38 705.00,681.60 709.00,692.04 714.00,689.10 718.00,688.05 723.00,662.09 727.00,666.43 732.00,682.02 736.00,683.60 741.00,700.00 745.00,709.86 750.00,733.25 754.00,767.65 759.00,769.92 763.00,760.39 768.00,774.99 773.00,773.55 777.00,782.58 782.00,749.81 786.00,749.82 791.00,746.68 795.00,753.17 800.00,729.35 804.00,726.73 809.00,721.25 813.00,726.84 818.00,730.51 822.00,736.24 827.00,738.23 831.00,740.60 836.00,749.12 840.00,749.46 845.00,747.34 849.00,717.76 854.00,718.86 858.00,706.62 863.00,676.85 867.00,677.57 872.00,677.65 876.00,695.73 881.00,714.88 886.00,726.72 890.00,698.74 895.00,688.74 899.00,681.92 904.00,671.73 908.00,682.00 913.00,641.62 917.00,623.21 922.00,628.14 926.00,630.26 931.00,644.26 935.00,651.09 940.00,647.84 944.00,682.69 949.00,684.06 953.00,641.78 958.00,624.65 962.00,626.65 967.00,630.60 971.00,641.32 976.00,642.11 980.00,651.17 985.00,656.65 989.00,663.11 994.00,642.86 999.00,655.17 1003.00,648.64 1008.00,631.02 1012.00,654.33 1017.00,633.15 1021.00,633.86 1026.00,622.13 1030.00,621.19 1035.00,626.92 1039.00,635.91 1044.00,646.02 1048.00,666.14 1053.00,671.77 1057.00,733.63 1062.00,722.28 1066.00,708.73 1071.00,711.45 1075.00,706.45 1080.00,710.67 1084.00,702.68 1089.00,734.46 1093.00,738.56 1098.00,747.89 1102.00,717.64 1107.00,727.92 1112.00,718.41 1116.00,715.11 1121.00,719.67 1125.00,722.78 1130.00,714.76 1134.00,720.64 1139.00,745.37 1143.00,721.91 1148.00,720.63 1152.00,649.42 1157.00,642.07 1161.00,642.85" fill="none" stroke="#7e57c2" stroke-width="1.9" stroke-linejoin="round" stroke-linecap="round"/>
</g>
<text y="597.7" fill="#131722" font-size="12.5" ><tspan x="18.60" textLength="14.32" lengthAdjust="spacingAndGlyphs">RSI</tspan> <tspan x="38.80" textLength="18.88" lengthAdjust="spacingAndGlyphs">(14,</tspan> <tspan x="62.90" textLength="30.37" lengthAdjust="spacingAndGlyphs">close)</tspan> <tspan x="102.40" fill="#7e57c2" textLength="28.67" lengthAdjust="spacingAndGlyphs">56.34</tspan></text>
<path d="M1246.8 635.2V651.4H1221a2 2 0 0 1 -2 -2V637.2a2 2 0 0 1 2 -2Z" fill="#7e57c2"/>
<path d="M1248.2 635.2H1291.8a2 2 0 0 1 2 2V649.4a2 2 0 0 1 -2 2H1248.2Z" fill="#7e57c2"/>
<text x="1225.00" y="648" fill="#fff" font-size="12.5" textLength="16.02" lengthAdjust="spacingAndGlyphs" stroke="#fff" stroke-width="0.45">RSI</text>
<text x="1258.50" y="648" fill="#fff" font-size="12.5" textLength="28.77" lengthAdjust="spacingAndGlyphs" stroke="#fff" stroke-width="0.45">56.34</text>
<g clip-path="url(#ct)">
<text x="3.40" y="812" fill="#131722" font-size="12.5" textLength="28.40" lengthAdjust="spacingAndGlyphs" >2022</text>
<text x="148.30" y="812" fill="#131722" font-size="12.5" textLength="18.68" lengthAdjust="spacingAndGlyphs" >Feb</text>
<text x="274.50" y="812" fill="#131722" font-size="12.5" textLength="19.33" lengthAdjust="spacingAndGlyphs" >Mar</text>
<text x="415.50" y="812" fill="#131722" font-size="12.5" textLength="18.01" lengthAdjust="spacingAndGlyphs" >Apr</text>
<text x="549.50" y="812" fill="#131722" font-size="12.5" textLength="20.99" lengthAdjust="spacingAndGlyphs" >May</text>
<text x="691.00" y="812" fill="#131722" font-size="12.5" textLength="19.03" lengthAdjust="spacingAndGlyphs" >Jun</text>
<text x="828.50" y="812" fill="#131722" font-size="12.5" textLength="14.98" lengthAdjust="spacingAndGlyphs" >Jul</text>
<text x="965.50" y="812" fill="#131722" font-size="12.5" textLength="19.99" lengthAdjust="spacingAndGlyphs" >Aug</text>
<text x="1106.50" y="812" fill="#131722" font-size="12.5" textLength="18.49" lengthAdjust="spacingAndGlyphs" >Sep</text>
</g>
<g fill="#131722"><path d="M9.8 834.1h7.9v9.7h-3.8v-6H9.8z"/><circle cx="21.1" cy="836" r="1.85"/><path d="M24.4 834.1h4.9l-3.9 9.7h-4.8z"/></g>
<text x="33.20" y="843.8" fill="#131722" font-size="13.2" textLength="69.78" lengthAdjust="spacingAndGlyphs" >TradingView</text>
</svg>
</body></html>
